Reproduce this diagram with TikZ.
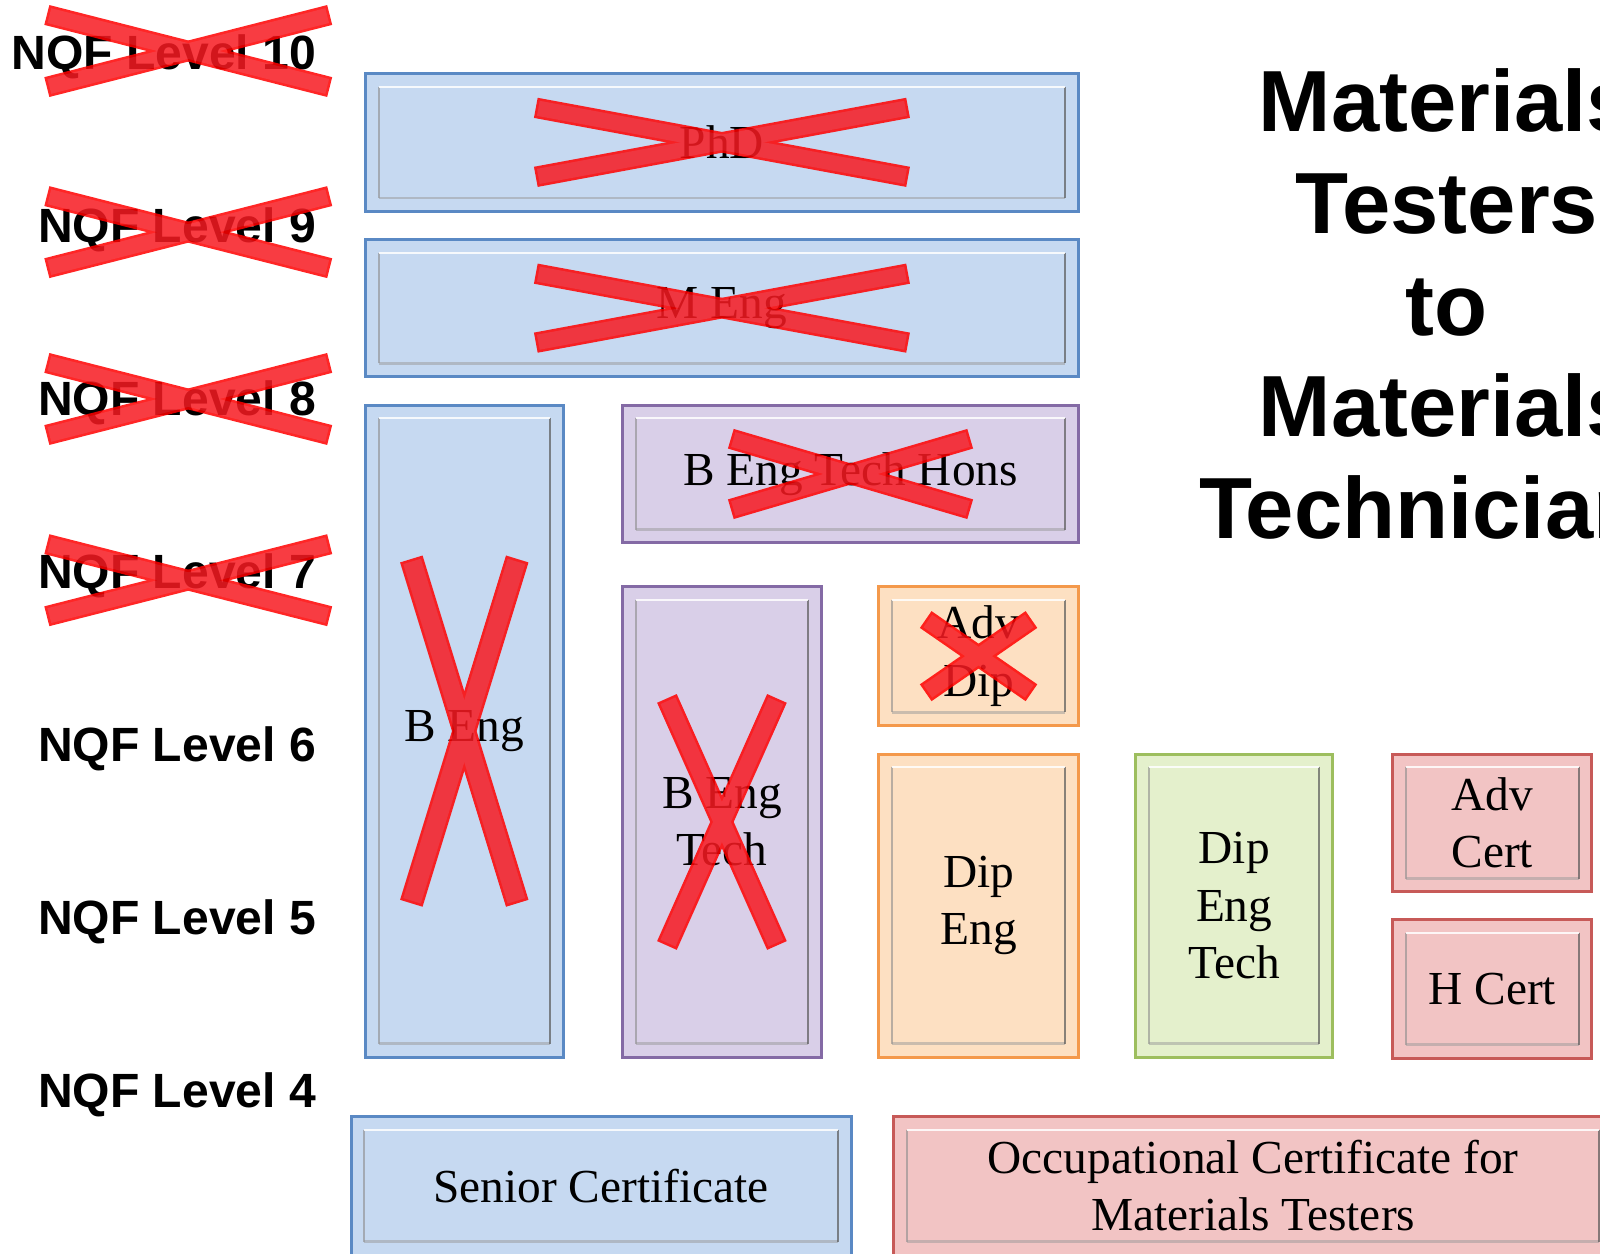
\documentclass[tikz,border=0pt]{standalone}
\usepackage{fontspec}
\setmainfont{Liberation Serif}
\newfontfamily\headfont{Liberation Sans}
\usetikzlibrary{positioning, fit, calc}

\definecolor{qblue}{RGB}{198,217,241}
\definecolor{qblueline}{RGB}{90,137,196}
\definecolor{qpurple}{RGB}{217,207,232}
\definecolor{qpurpleline}{RGB}{132,106,165}
\definecolor{qorange}{RGB}{253,224,194}
\definecolor{qorangeline}{RGB}{244,153,75}
\definecolor{qgreen}{RGB}{228,240,204}
\definecolor{qgreenline}{RGB}{157,190,94}
\definecolor{qred}{RGB}{242,196,196}
\definecolor{qredline}{RGB}{199,90,88}
\definecolor{xfillred}{RGB}{247,26,34}

\tikzset{%
	qual/.style={draw, rectangle, line width=2.1pt, inner sep=0pt, path picture={%
			\coordinate (in-nw) at ([shift={(13,13)}]path picture bounding box.north west);
			\coordinate (in-se) at ([shift={(-13,-13)}]path picture bounding box.south east);
			\draw[black!45, opacity=.6, line width=1.4pt] (in-nw|-in-se) -- (in-nw);
			\draw[black!40, opacity=.5, line width=2pt] (in-nw|-in-se) -- (in-se);
			\draw[black!65, opacity=.7, line width=1.4pt] (in-se) -- (in-se|-in-nw);
			\draw[white, opacity=.85, line width=1.4pt] (in-nw) -- (in-se|-in-nw);
		}, label={[qtext]center:#1}},
	qtext/.style={align=center, inner sep=0pt, font=\fontsize{33}{40}\selectfont},
	uni/.style={qual=#1, fill=qblue, draw=qblueline},
	tech/.style={qual=#1, fill=qpurple, draw=qpurpleline},
	dip/.style={qual=#1, fill=qorange, draw=qorangeline},
	dipt/.style={qual=#1, fill=qgreen, draw=qgreenline},
	cert/.style={qual=#1, fill=qred, draw=qredline},
	nqf/.style={anchor=base east, inner sep=0pt, font=\headfont\bfseries\fontsize{33.5}{40}\selectfont},
	heading/.style={align=center, inner sep=0pt, font=\headfont\bfseries\fontsize{60.5}{71}\selectfont},
	xline/.style={draw=red, line width=3.6pt},
	xfill/.style={fill=xfillred}
}

% big red cross: centre, length, thickness, angle
\newcommand{\strikeX}[4]{%
	\begin{scope}[shift={#1}, transparency group, opacity=.85]
		\foreach \ang in {#4,-#4}
			\draw[xline, rotate=\ang] (-#2/2+2.5,-#3/2+2.5) rectangle (#2/2-2.5,#3/2-2.5);
		\foreach \ang in {#4,-#4}
			\fill[xfill, rotate=\ang] (-#2/2+2.5,-#3/2+2.5) rectangle (#2/2-2.5,#3/2-2.5);
	\end{scope}}

\begin{document}
\begin{tikzpicture}[x=0.025cm, y=-0.025cm]
	\clip (0,0) rectangle (1568,1228);
	\fill[white] (0,0) rectangle (1568,1228);

	\foreach \lvl [count=\i from 0] in {10,9,...,4}
		\node[nqf] (l\lvl) at (310, 68.6+169.5*\i) {NQF Level \lvl};

	\node[uni={PhD}, fit={(358,72) (1057,207)}] (phd) {};
	\node[uni={M Eng}, fit={(358,235) (1057,369)}] (meng) {};
	\node[uni={B Eng}, fit={(358,397) (552,1036)}] (beng) {};
	\node[tech={B Eng Tech Hons}, fit={(610,397) (1057,532)}] (hons) {};
	\node[tech={B Eng\\Tech}, fit={(610,575) (805,1036)}] (btech) {};
	\node[dip={Adv\\Dip}, fit={(861,575) (1057,711)}] (advdip) {};
	\node[dip={Dip\\Eng}, fit={(861,739) (1057,1036)}] (dipeng) {};
	\node[dipt={Dip\\Eng\\Tech}, fit={(1113,739) (1306,1036)}] (dipengtech) {};
	\node[cert={Adv\\Cert}, fit={(1365,739) (1560,874)}] (advcert) {};
	\node[cert={H Cert}, fit={(1365,901) (1560,1037)}] (hcert) {};
	\node[uni={Senior Certificate}, fit={(344,1094) (834,1230)}] (senior) {};
	\node[cert={Occupational Certificate for\\Materials Testers}, fit={(876,1094) (1580,1230)}] (occert) {};

	\node[heading] (head) at (1418,298) {Materials\\Testers\\to\\Materials\\Technicians};

	\strikeX{(184.5,50)}{286}{20}{14.3}
	\strikeX{(184.5,227.5)}{286}{20}{14.3}
	\strikeX{(184.5,391)}{286}{20}{14.3}
	\strikeX{(184.5,568.6)}{286}{20}{14.3}
	\strikeX{(phd.center)}{371}{20}{10.5}
	\strikeX{(meng.center)}{371}{20}{10.5}
	\strikeX{(hons.center)}{244.5}{20}{16.4}
	\strikeX{(advdip.center)}{126}{20}{34.7}
	\strikeX{(beng.center)}{353}{23}{72.9}
	\strikeX{(btech.center)}{265}{21}{66}
\end{tikzpicture}
\end{document}
